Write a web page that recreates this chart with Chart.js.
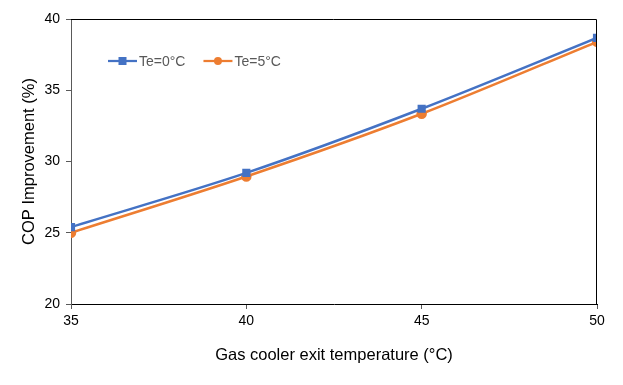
<!DOCTYPE html>
<html>
<head>
<meta charset="utf-8">
<script src="https://cdn.jsdelivr.net/npm/chart.js@4/dist/chart.umd.min.js"></script>
<style>
  html, body { margin: 0; padding: 0; background: #fff; }
  #wrap { width: 623px; height: 385px; }
</style>
</head>
<body>
<div id="wrap"><canvas id="copChart"></canvas></div>
<script>
const temps = [35, 40, 45, 50];
const te0 = [25.4, 29.2, 33.7, 38.67];
const te5 = [25.0, 28.95, 33.35, 38.4];
const yTicks = [20, 25, 30, 35, 40];

const FONT = "'Liberation Sans', Arial, sans-serif";

// frame on top/right + legend inside the plot
const framePlugin = {
  id: "frame",
  afterDraw(chart) {
    const { ctx, chartArea: a } = chart;
    ctx.save();
    ctx.strokeStyle = "#000";
    ctx.lineWidth = 1;
    ctx.beginPath();
    ctx.moveTo(a.left, a.top + 0.5);
    ctx.lineTo(a.right - 0.5, a.top + 0.5);
    ctx.lineTo(a.right - 0.5, a.bottom);
    ctx.stroke();

    // legend
    ctx.font = "14px " + FONT;
    ctx.textBaseline = "middle";
    let x = a.left + 37;
    const y = a.top + 42;
    chart.data.datasets.forEach(function (ds) {
      ctx.strokeStyle = ds.borderColor;
      ctx.lineWidth = 2.25;
      ctx.beginPath();
      ctx.moveTo(x, y);
      ctx.lineTo(x + 29, y);
      ctx.stroke();
      ctx.fillStyle = ds.backgroundColor;
      if (ds.pointStyle === "rect") {
        ctx.fillRect(x + 10.5, y - 4, 8, 8);
      } else {
        ctx.beginPath();
        ctx.arc(x + 14.5, y, 4, 0, Math.PI * 2);
        ctx.fill();
      }
      ctx.fillStyle = "#595959";
      ctx.fillText(ds.label, x + 31, y + 1);
      x += 31 + ctx.measureText(ds.label).width + 18;
    });
    ctx.restore();
  },
};

const ctx = document.getElementById("copChart").getContext("2d");
new Chart(ctx, {
  type: "line",
  data: {
    datasets: [
      {
        label: "Te=0°C",
        data: temps.map((t, i) => ({ x: t, y: te0[i] })),
        borderColor: "#4472C4",
        backgroundColor: "#4472C4",
        borderWidth: 2.5,
        pointStyle: "rect",
        pointRadius: 4,
        tension: 0.3,
      },
      {
        label: "Te=5°C",
        data: temps.map((t, i) => ({ x: t, y: te5[i] })),
        borderColor: "#ED7D31",
        backgroundColor: "#ED7D31",
        borderWidth: 2.5,
        pointStyle: "circle",
        pointRadius: 4,
        tension: 0.3,
      },
    ],
  },
  options: {
    responsive: true,
    maintainAspectRatio: false,
    animation: false,
    layout: { padding: { left: 16, right: 26, top: 19, bottom: 16 } },
    scales: {
      x: {
        type: "linear",
        min: 35,
        max: 50,
        afterBuildTicks: (s) => { s.ticks = temps.map((v) => ({ value: v })); },
        afterFit: (s) => { s.height = 65; },
        ticks: {
          color: "#000",
          font: { family: FONT, size: 14 },
          padding: 4,
          maxRotation: 0,
        },
        grid: { drawOnChartArea: false, tickLength: 5, color: "#595959" },
        border: { color: "#000", width: 1 },
        title: {
          display: true,
          text: "Gas cooler exit temperature (°C)",
          color: "#000",
          font: { family: FONT, size: 16.5 },
          padding: { top: 12 },
        },
      },
      y: {
        min: 20,
        max: 40,
        afterBuildTicks: (s) => { s.ticks = yTicks.map((v) => ({ value: v })); },
        afterFit: (s) => { s.width = 55; },
        ticks: {
          color: "#000",
          font: { family: FONT, size: 14 },
          padding: 6,
        },
        grid: { drawOnChartArea: false, tickLength: 5, color: "#595959" },
        border: { color: "#595959", width: 1 },
        title: {
          display: true,
          text: "COP Improvement (%)",
          color: "#000",
          font: { family: FONT, size: 16.5 },
          padding: { bottom: 4 },
        },
      },
    },
    plugins: {
      legend: { display: false },
      tooltip: { enabled: false },
    },
  },
  plugins: [framePlugin],
});
</script>
</body>
</html>
